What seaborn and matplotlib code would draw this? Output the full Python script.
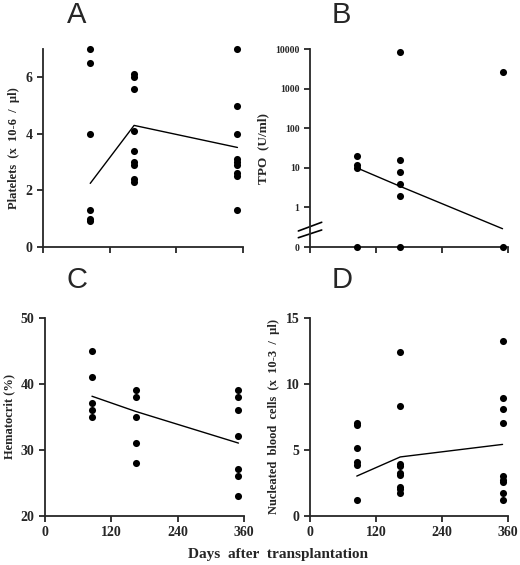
import numpy as np
import pandas as pd
import seaborn as sns
import matplotlib.pyplot as plt

# days after transplantation for the three sampling groups
days = [85, 164, 350]

# Platelets (x 10-6 / ul)
platelets = [
    [7.0, 6.5, 4.0, 1.3, 1.0, 0.92],
    [6.1, 6.0, 5.6, 4.1, 3.4, 3.0, 2.9, 2.4, 2.3],
    [7.0, 5.0, 4.0, 3.1, 3.0, 2.9, 2.6, 2.5, 1.3],
]
platelets_mean = [2.25, 4.3, 3.52]

# TPO (U/ml), 0 means below detection
tpo = [
    [20, 12, 10, 0],
    [8300, 16, 8, 4, 2, 0],
    [2600, 0],
]
tpo_mean = [10, 3.4, 0.29]

# Hematocrit (%)
hematocrit = [
    [45, 41, 37, 36, 35],
    [39, 38, 35, 31, 28],
    [39, 38, 36, 32, 27, 26, 23],
]
hematocrit_mean = [38.1, 35.8, 31.0]

# Nucleated blood cells (x 10-3 / ul)
nucleated = [
    [7.0, 6.9, 5.1, 4.1, 3.85, 1.15],
    [12.4, 8.3, 3.9, 3.75, 3.2, 3.05, 2.2, 2.0, 1.7],
    [13.2, 8.9, 8.1, 7.0, 3.0, 2.7, 2.55, 1.75, 1.15],
]
nucleated_mean = [3.0, 4.45, 5.4]

x_ticks = [0, 120, 240, 360]


def to_frame(groups):
    rows = []
    for d, vals in zip(days, groups):
        for v in vals:
            rows.append({'day': d, 'value': v})
    return pd.DataFrame(rows)


sns.set_style('ticks')
plt.rcParams['font.family'] = ['Liberation Serif', 'DejaVu Serif']
plt.rcParams['axes.linewidth'] = 1.3
plt.rcParams['xtick.major.width'] = 1.3
plt.rcParams['ytick.major.width'] = 1.3
plt.rcParams['xtick.major.size'] = 4
plt.rcParams['ytick.major.size'] = 4

fig = plt.figure(figsize=(5.2, 5.65), dpi=100)
axA = fig.add_axes([0.0827, 0.5628, 0.3846, 0.3504])
axB = fig.add_axes([0.5962, 0.5628, 0.3808, 0.3504])
axC = fig.add_axes([0.0865, 0.0873, 0.3827, 0.3504])
axD = fig.add_axes([0.5962, 0.0873, 0.3808, 0.3504])


def panel(ax, groups, means, ylabel, ylim, yticks, show_xlabels):
    df = to_frame(groups)
    sns.lineplot(x=days, y=means, ax=ax, color='black', linewidth=1.0)
    sns.scatterplot(data=df, x='day', y='value', ax=ax, color='black', s=26,
                    edgecolor='black', linewidth=0, clip_on=False, zorder=3)
    ax.set_xlim(0, 360)
    ax.set_ylim(*ylim)
    ax.set_xticks(x_ticks)
    ax.set_yticks(yticks)
    ax.set_xlabel('')
    ax.set_ylabel(ylabel, fontsize=9, fontweight='bold')
    if show_xlabels:
        ax.set_xticklabels([str(t) for t in x_ticks], fontsize=10, fontweight='bold')
    else:
        ax.set_xticklabels([])
    for lab in ax.get_yticklabels():
        lab.set_fontsize(10)
        lab.set_fontweight('bold')
    sns.despine(ax=ax)


panel(axA, platelets, platelets_mean, 'Platelets  (x  10-6  /  µl)', (0, 7), [0, 2, 4, 6], False)
panel(axC, hematocrit, hematocrit_mean, 'Hematocrit (%)', (20, 50), [20, 30, 40, 50], True)
panel(axD, nucleated, nucleated_mean, 'Nucleated  blood  cells  (x  10-3  /  µl)', (0, 15), [0, 5, 10, 15], True)

# TPO panel on a log scale, zero values put at the bottom of the broken axis
tpo_plot = [[v if v > 0 else 0.1 for v in g] for g in tpo]
dfB = to_frame(tpo_plot)
sns.lineplot(x=days, y=tpo_mean, ax=axB, color='black', linewidth=1.0)
sns.scatterplot(data=dfB, x='day', y='value', ax=axB, color='black', s=26,
                linewidth=0, clip_on=False, zorder=3)
axB.set_yscale('log')
axB.set_xlim(0, 360)
axB.set_ylim(0.1, 10000)
axB.set_xticks(x_ticks)
axB.set_xticklabels([])
axB.set_yticks([0.1, 1, 10, 100, 1000, 10000])
axB.set_yticklabels(['0', '1', '10', '100', '1000', '10000'], fontsize=7, fontweight='bold')
axB.minorticks_off()
axB.set_xlabel('')
axB.set_ylabel('TPO  (U/ml)', fontsize=9.5, fontweight='bold')
sns.despine(ax=axB)
for y0, y1 in [(0.081, 0.125), (0.047, 0.086)]:
    axB.plot([-0.059, 0.059], [y0, y1], transform=axB.transAxes, color='black',
             linewidth=1.2, clip_on=False)

# panel letters (baseline positions in pixels)
for x, y, letter in [(77, 23, 'A'), (341, 23, 'B'), (77.5, 287.5, 'C'), (342, 287.5, 'D')]:
    fig.text(x / 520, 1 - y / 565, letter, fontsize=21,
             family='Liberation Sans', ha='center', va='baseline')

fig.text(0.534, 0.018, 'Days  after  transplantation', fontsize=11,
         fontweight='bold', ha='center', va='center')

fig.savefig('out.png', dpi=100)
